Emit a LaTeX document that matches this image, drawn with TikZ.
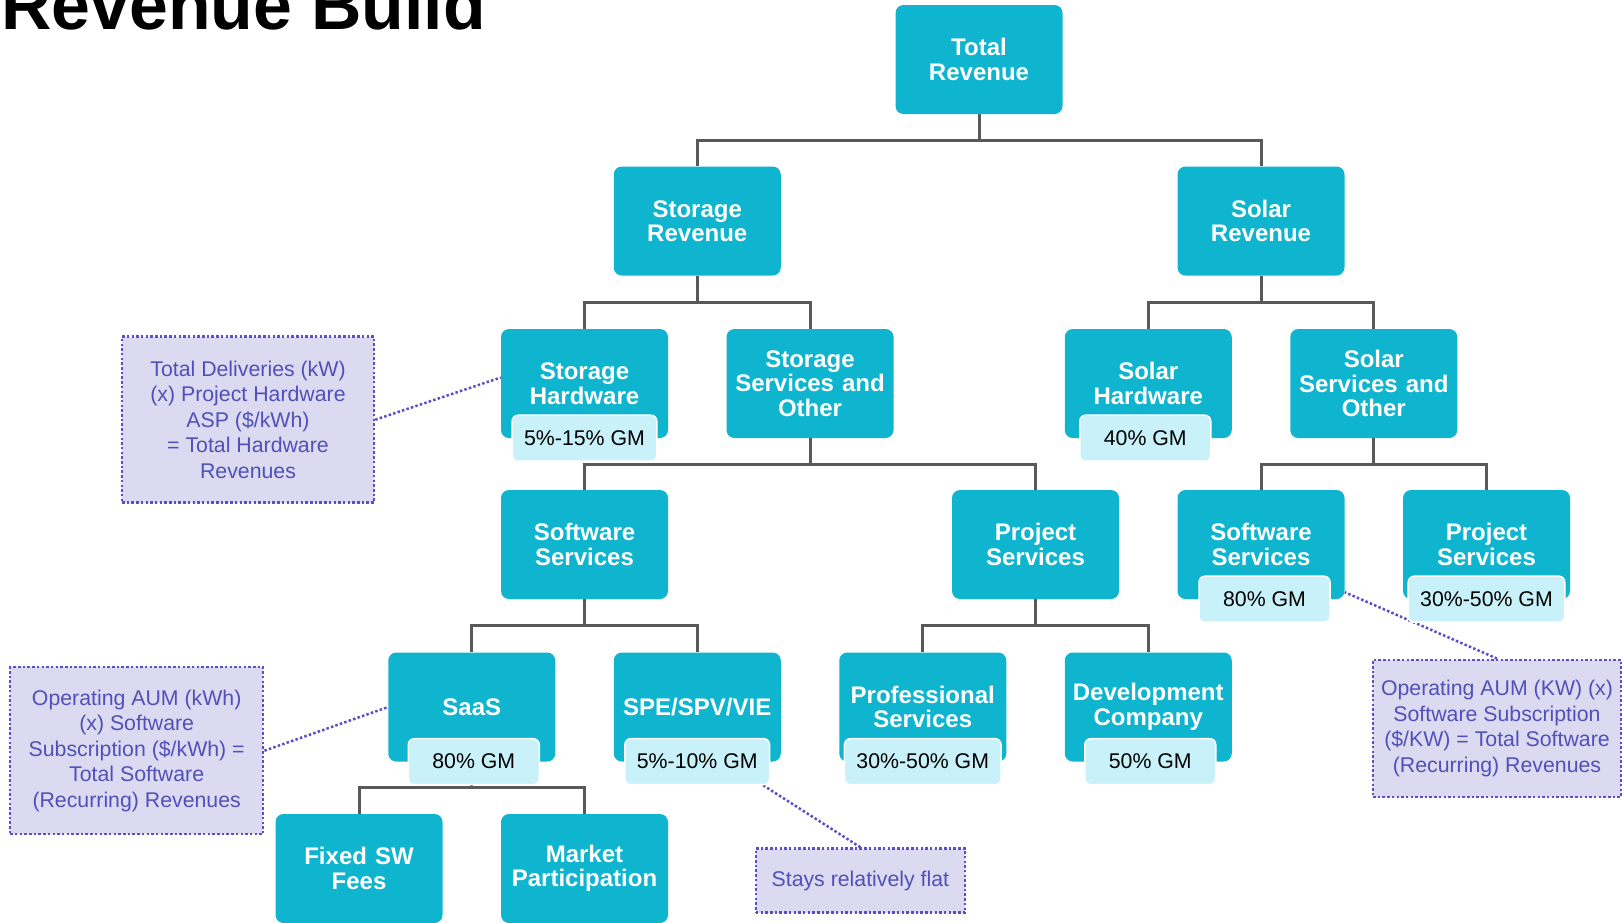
\documentclass[tikz,border=0pt]{standalone}
\usepackage{fontspec}
\setmainfont{Liberation Sans}
\usetikzlibrary{calc}
\definecolor{tealbox}{HTML}{0FB5CE}
\definecolor{gmfill}{HTML}{C8F1F9}
\definecolor{treegray}{HTML}{595959}
\definecolor{notefill}{HTML}{DCDAF0}
\definecolor{notedot}{HTML}{5B4EC6}
\definecolor{notetext}{HTML}{5050B8}
\pgfdeclarelayer{background}
\pgfsetlayers{background,main}
\newcommand{\boxfont}{\fontsize{24}{24.5}\selectfont\bfseries}
\newcommand{\gmfont}{\fontsize{21.3}{24}\selectfont}
\newcommand{\notefont}{\fontsize{21.3}{25.6}\selectfont}
\begin{document}
\begin{tikzpicture}[x=1pt,y=-1pt,
  box/.style={fill=tealbox, rounded corners=8pt, minimum width=167pt,
    minimum height=109pt, text width=166pt, align=center, text=white,
    font=\boxfont, inner sep=0pt},
  gm/.style={fill=gmfill, draw=white, line width=1.5pt, rounded corners=6pt,
    minimum width=131pt, minimum height=46pt, inner xsep=12pt, inner ysep=0pt,
    text depth=1pt, font=\gmfont, text=black},
  note/.style={fill=notefill, draw=notedot, line width=2.5pt,
    dash pattern=on 2.5pt off 2.2pt, text=notetext, font=\notefont,
    align=center, inner sep=0pt},
  link/.style={draw=notedot, line width=2.5pt, dash pattern=on 2.5pt off 2.2pt},
  tree/.style={draw=treegray, line width=3pt}
]
\useasboundingbox (0,0) rectangle (1622,922);
\clip (0,0) rectangle (1622,922);

% title
\node[anchor=base west, inner sep=0pt, font=\fontsize{69.8}{80}\selectfont\bfseries]
  (title) at (1,29) {Revenue Build};

% level 1
\node[box] (tr) at (979,59.5) {Total\\Revenue};
% level 2
\node[box] (str) at (697.25,221) {Storage\\Revenue};
\node[box] (sor) at (1261,221) {Solar\\Revenue};
% level 3
\node[box] (shw) at (584.5,383.5) {Storage\\Hardware};
\node[box] (sso) at (810,383.5) {Storage\\Services and\\Other};
\node[box] (ohw) at (1148.25,383.5) {Solar\\Hardware};
\node[box] (oso) at (1373.75,383.5) {Solar\\Services and\\Other};
% level 4
\node[box] (ssw) at (584.5,544.5) {Software\\Services};
\node[box] (sps) at (1035.5,544.5) {Project\\Services};
\node[box] (osw) at (1261,544.5) {Software\\Services};
\node[box] (ops) at (1486.5,544.5) {Project\\Services};
% level 5
\node[box] (saas) at (471.75,707) {SaaS};
\node[box] (spe) at (697.25,707) {SPE/SPV/VIE};
\node[box] (prof) at (922.75,707) {Professional\\Services};
\node[box] (dev) at (1148.25,707) {Development\\Company};
% level 6
\node[box] (fix) at (359,868.5) {Fixed SW\\Fees};
\node[box] (mkt) at (584.5,868.5) {Market\\Participation};

% gross margin tags
\node[gm] (shwgm) at (shw.south) {5\%-15\% GM};
\node[gm] (ohwgm) at ([xshift=-3pt]ohw.south) {40\% GM};
\node[gm] (oswgm) at ([xshift=3.5pt]osw.south) {80\% GM};
\node[gm] (opsgm) at (ops.south) {30\%-50\% GM};
\node[gm] (saasgm) at ([xshift=2pt]saas.south) {80\% GM};
\node[gm] (spegm) at (spe.south) {5\%-10\% GM};
\node[gm] (profgm) at (prof.south) {30\%-50\% GM};
\node[gm] (devgm) at ([xshift=2pt]dev.south) {50\% GM};

% notes
\node[note, minimum width=252pt, minimum height=166pt] (n1) at (248,419.7)
  {Total Deliveries (kW)\\(x) Project Hardware\\ASP (\$/kWh)\\= Total Hardware\\Revenues};
\node[note, minimum width=253pt, minimum height=167pt] (n2) at (136.7,750.7)
  {Operating AUM (kWh)\\(x) Software\\Subscription (\$/kWh) =\\Total Software\\(Recurring) Revenues};
\node[note, minimum width=248pt, minimum height=137pt] (n3) at (1497,728.3)
  {Operating AUM (KW) (x)\\Software Subscription\\(\$/KW) = Total Software\\(Recurring) Revenues};
\node[note, minimum width=209pt, minimum height=64pt] (n4) at (860.4,880.5)
  {Stays relatively flat};

\begin{pgfonlayer}{background}
  % tree connectors
  \foreach \p/\c in {tr/str, tr/sor, str/shw, str/sso, sor/ohw, sor/oso,
      sso/ssw, sso/sps, oso/osw, oso/ops, ssw/saas, ssw/spe, sps/prof, sps/dev,
      saas/fix, saas/mkt}
    \draw[tree] (\p.south) -- ($(\p.south)!0.5!(\p.south |- \c.north)$) -| (\c.north);
  % note links
  \draw[link] (n1.east) -- ([yshift=6pt]shw.west);
  \draw[link] (n2.east) -- (saas.west);
  \draw[link] (n3.north) -- ([yshift=7pt]osw.south east);
  \draw[link] (n4.north) -- ([xshift=-7pt]spegm.south east);
\end{pgfonlayer}
\end{tikzpicture}
\end{document}
